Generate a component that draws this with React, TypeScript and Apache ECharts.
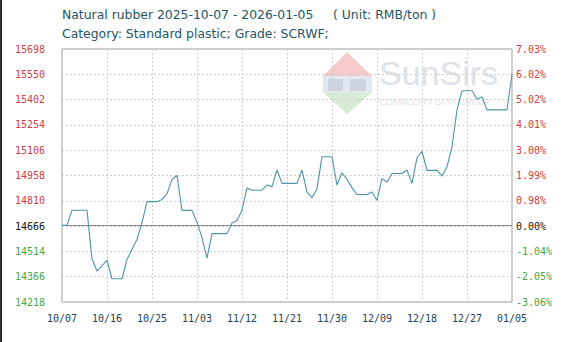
import React, { useEffect, useRef } from "react";
import * as echarts from "echarts";

const startDate = "2025-10-07";
const dayCount = 91;

const prices = [
  14666, 14666, 14755, 14755, 14755, 14755, 14470, 14399, 14430, 14463,
  14354, 14354, 14354, 14467, 14526, 14584, 14683, 14805, 14805, 14805,
  14818, 14851, 14935, 14958, 14754, 14754, 14754, 14685, 14595, 14474,
  14618, 14618, 14618, 14618, 14680, 14695, 14755, 14885, 14872, 14872,
  14872, 14903, 14893, 14990, 14912, 14912, 14912, 14912, 14990, 14861,
  14828, 14881, 15068, 15068, 15068, 14902, 14974, 14935, 14887, 14847,
  14847, 14847, 14861, 14812, 14939, 14919, 14970, 14970, 14970, 14990,
  14912, 15062, 15101, 14988, 14988, 14988, 14954, 15009, 15126, 15342,
  15454, 15454, 15454, 15405, 15417, 15342, 15342, 15342, 15342, 15342,
  15552,
];

const baseValue = 14666;
const priceMin = 14218;
const priceMax = 15698;

const leftTicks = [
  "14218", "14366", "14514", "14666", "14810", "14958",
  "15106", "15254", "15402", "15550", "15698",
];
const rightTicks = [
  "-3.06%", "-2.05%", "-1.04%", "0.00%", "0.98%", "1.99%",
  "3.00%", "4.01%", "5.02%", "6.02%", "7.03%",
];
const baseIndex = 3;

function buildCategories(): string[] {
  const out: string[] = [];
  const d0 = new Date(startDate + "T00:00:00Z");
  for (let i = 0; i < dayCount; i++) {
    const d = new Date(d0.getTime() + i * 86400000);
    const mm = String(d.getUTCMonth() + 1).padStart(2, "0");
    const dd = String(d.getUTCDate()).padStart(2, "0");
    out.push(mm + "/" + dd);
  }
  return out;
}

const RED = "#d04040";
const GREEN = "#46a646";
const BLACK = "#111111";

function tickFormatter(labels: string[]) {
  return (v: number) => {
    const i = Math.round(v);
    const t = labels[i] ?? "";
    if (i > baseIndex) return "{r|" + t + "}";
    if (i < baseIndex) return "{g|" + t + "}";
    return "{k|" + t + "}";
  };
}

const labelFont = "DejaVu Sans Mono";
const rich = {
  r: { color: RED, fontFamily: labelFont, fontSize: 10 },
  g: { color: GREEN, fontFamily: labelFont, fontSize: 10 },
  k: { color: BLACK, fontFamily: labelFont, fontSize: 10 },
};

export default function App() {
  const ref = useRef<HTMLDivElement>(null);
  useEffect(() => {
    if (!ref.current) return;
    const chart = echarts.init(ref.current, null, { renderer: "svg" });
    const categories = buildCategories();
    chart.setOption({
      animation: false,
      backgroundColor: "#ffffff",
      grid: {
        left: 62,
        right: 66,
        top: 49,
        bottom: 40,
        show: true,
        borderColor: "#9a9a9a",
        borderWidth: 1,
        backgroundColor: "transparent",
      },
      graphic: [
        {
          type: "line",
          shape: { x1: 1, y1: 0, x2: 1, y2: 342 },
          style: { stroke: "#2b2b2b", lineWidth: 2 },
        },
        {
          type: "text",
          left: 62,
          top: 8,
          style: {
            text: "Natural rubber 2025-10-07 - 2026-01-05     ( Unit: RMB/ton )",
            fill: "#1d5566",
            font: "12.4px 'DejaVu Sans'",
          },
        },
        {
          type: "text",
          left: 62,
          top: 27,
          style: {
            text: "Category: Standard plastic; Grade: SCRWF;",
            fill: "#1d5566",
            font: "12.4px 'DejaVu Sans'",
          },
        },
        {
          type: "group",
          z: 0,
          children: [
            {
              type: "polygon",
              shape: { points: [[347, 52], [372, 76], [323, 76]] },
              style: { fill: "#f6cacb" },
            },
            {
              type: "rect",
              shape: { x: 323, y: 76, width: 49, height: 17 },
              style: { fill: "#e3e7ef" },
            },
            {
              type: "rect",
              shape: { x: 328, y: 79, width: 15, height: 12 },
              style: { fill: "#cdd3e0" },
            },
            {
              type: "rect",
              shape: { x: 350, y: 79, width: 16, height: 12 },
              style: { fill: "#cdd3e0" },
            },
            {
              type: "polygon",
              shape: { points: [[324, 93], [371, 93], [347, 114]] },
              style: { fill: "#d6ecd6" },
            },
            {
              type: "text",
              x: 379,
              y: 56,
              style: {
                text: "SunSirs",
                fill: "#dde2e9",
                font: "34px 'Liberation Sans'",
              },
            },
            {
              type: "text",
              x: 380,
              y: 97,
              style: {
                text: "COMMODITY DATA GROUP",
                fill: "#e2e2e2",
                font: "8.5px 'Liberation Sans'",
              },
            },
          ],
        },
      ],
      xAxis: {
        type: "category",
        data: categories,
        boundaryGap: false,
        axisLine: { show: false },
        axisTick: { show: false },
        axisLabel: {
          interval: 8,
          margin: 11,
          color: "#1f3f50",
          fontFamily: labelFont,
          fontSize: 10,
        },
        splitLine: {
          show: true,
          interval: 8,
          lineStyle: { color: "#d0d0d0", type: [2, 2], width: 1 },
        },
      },
      yAxis: [
        {
          type: "value",
          position: "left",
          min: 0,
          max: 10,
          interval: 1,
          axisLine: { show: false },
          axisTick: { show: false },
          axisLabel: { margin: 17, formatter: tickFormatter(leftTicks), rich },
          splitLine: {
            show: true,
            lineStyle: { color: "#d0d0d0", type: [2, 2], width: 1 },
          },
        },
        {
          type: "value",
          position: "right",
          min: 0,
          max: 10,
          interval: 1,
          axisLine: { show: false },
          axisTick: { show: false },
          axisLabel: { margin: 4, formatter: tickFormatter(rightTicks), rich },
          splitLine: { show: false },
        },
        {
          type: "value",
          show: false,
          min: priceMin,
          max: priceMax,
          splitLine: { show: false },
        },
      ],
      series: [
        {
          type: "line",
          yAxisIndex: 2,
          data: prices,
          symbol: "none",
          lineStyle: { color: "#4f93a8", width: 1.1 },
          z: 5,
          markLine: {
            silent: true,
            symbol: "none",
            label: { show: false },
            lineStyle: { color: "#8a8a8a", type: "solid", width: 1.2 },
            data: [{ yAxis: baseValue }],
          },
        },
      ],
    });
    return () => chart.dispose();
  }, []);
  return (
    <div
      ref={ref}
      style={{ position: "fixed", left: 0, top: 0, width: 578, height: 342 }}
    />
  );
}
